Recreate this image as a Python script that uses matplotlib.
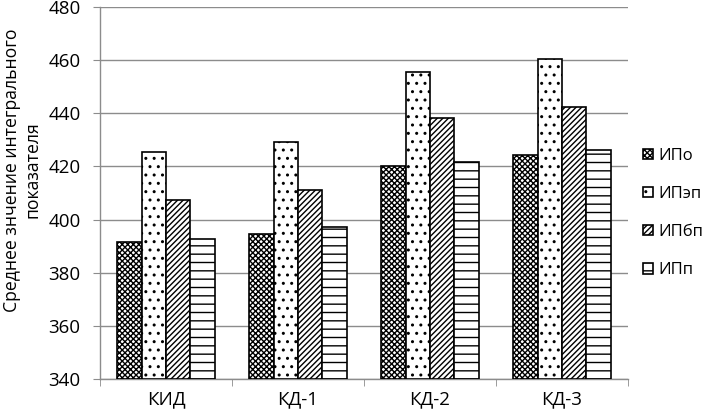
import matplotlib
matplotlib.use("Agg")
import matplotlib.pyplot as plt
import numpy as np

categories = ["КИД", "КД-1", "КД-2", "КД-3"]
series_names = ["ИПо", "ИПэп", "ИПбп", "ИПп"]
ipo = [391.6, 394.4, 420.0, 424.4]
ipep = [425.4, 429.2, 455.5, 460.5]
ipbp = [407.3, 411.2, 438.1, 442.5]
ipp = [392.5, 397.1, 421.8, 426.3]
series = [ipo, ipep, ipbp, ipp]
hatches = ["xxxxxx", "..", "//////", "--"]
yticks = [340, 360, 380, 400, 420, 440, 460, 480]

plt.rcParams["font.family"] = ["Open Sans", "DejaVu Sans"]
plt.rcParams["hatch.linewidth"] = 1.0

fig = plt.figure(figsize=(7.24, 4.16), dpi=100)
ax = fig.add_axes([100/724, 1-379/416, 528/724, 372/416])

x = np.arange(len(categories))
w = 0.184
offs = [-1.5, -0.5, 0.5, 1.5]
for vals, name, h, o in zip(series, series_names, hatches, offs):
    ax.bar(x + o*w, np.array(vals) - 340, bottom=340, width=w, facecolor="white",
           edgecolor="black", hatch=h, linewidth=1.2, label=name, zorder=3)

ax.set_xlim(-0.5, 3.5)
ax.set_ylim(340, 480)
ax.set_yticks(yticks)
ax.yaxis.grid(True, color="#8c8c8c", linewidth=1.0, zorder=0)
ax.set_axisbelow(True)
for s in ["top", "right"]:
    ax.spines[s].set_visible(False)
for s in ["left", "bottom"]:
    ax.spines[s].set_color("#8c8c8c")
    ax.spines[s].set_linewidth(1.0)

ax.set_xticks(x)
ax.set_xticklabels(categories, fontsize=13.5)
ax.set_xticks(np.arange(-0.5, 4.0, 1.0), minor=True)
ax.tick_params(axis="x", which="major", length=0, pad=8)
ax.tick_params(axis="x", which="minor", length=5, color="#8c8c8c", direction="out")
ax.tick_params(axis="y", length=5, color="#8c8c8c", direction="out", labelsize=13.5, pad=9)

fig.text(22/724, 1-170/416, "Среднее знчение интегрального\nпоказателя", rotation=90,
         ha="center", va="center", multialignment="center", fontsize=12.7)

fig.legend(loc="center left", bbox_to_anchor=(636/724, 1-213/416), frameon=False,
           fontsize=12, labelspacing=1.33, handlelength=0.6, handleheight=0.6,
           handletextpad=0.35, borderaxespad=0)

fig.savefig("out.png", dpi=100)
